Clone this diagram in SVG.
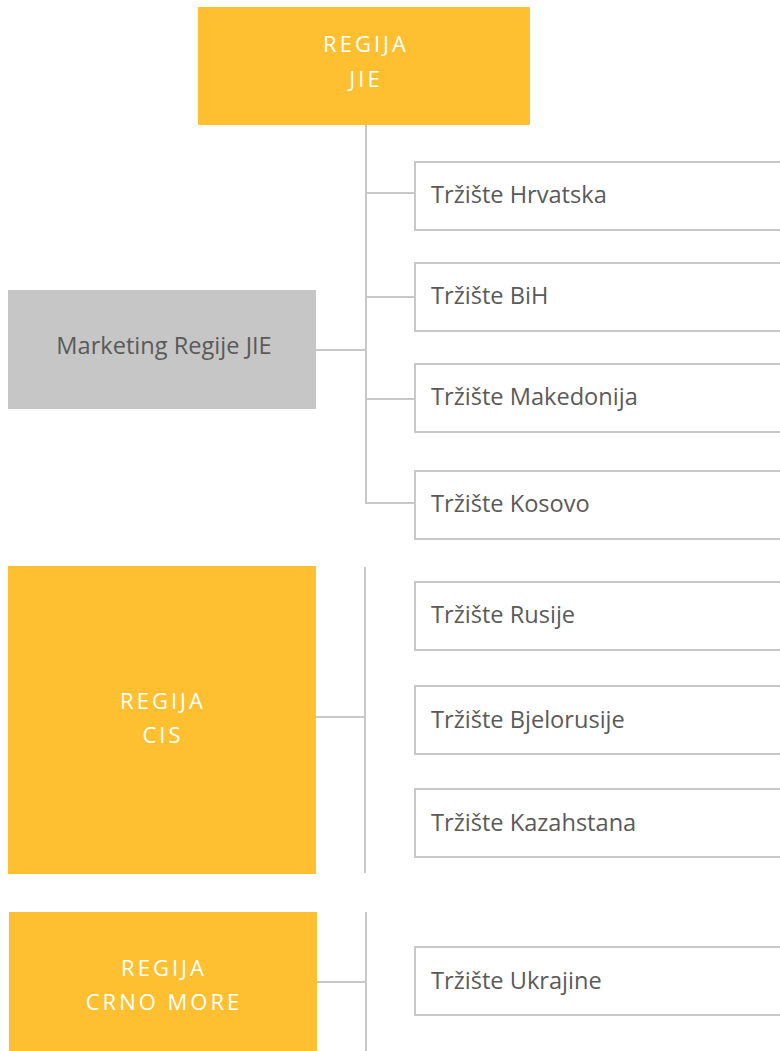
<svg xmlns="http://www.w3.org/2000/svg" width="780" height="1051" viewBox="0 0 780 1051">
<style>
.region{fill:#FEBF30}
.mkt{fill:#C6C6C6}
.child{fill:#FFFFFF;stroke:#C8C8C8;stroke-width:2}
.rtext{font-family:"Open Sans","Noto Sans",sans-serif;font-size:22px;fill:#FFFFFF;letter-spacing:3px;text-anchor:middle}
.ctext{font-family:"Open Sans","Noto Sans",sans-serif;font-size:23.6px;fill:#5A5A5A}
.mtext{font-family:"Open Sans","Noto Sans",sans-serif;font-size:23.6px;fill:#5A5A5A;text-anchor:middle}
.conn{stroke:#C8C8C8;stroke-width:2;fill:none}
</style>
<rect width="780" height="1051" fill="#FFFFFF"/>
<g id="connectors">
<path class="conn" d="M366 125 V504 M366 193 H414 M366 297 H414 M366 399 H414 M366 503 H414 M316 350 H366"/>
<path class="conn" d="M365 567 V873 M316 717 H365"/>
<path class="conn" d="M366 912 V1051 M317 982 H366"/>
</g>
<g id="regija-jie">
<rect class="region" x="198" y="7" width="332" height="118"/>
<text class="rtext" x="366" y="52">REGIJA</text>
<text class="rtext" x="366" y="87">JIE</text>
</g>
<g id="marketing">
<rect class="mkt" x="8" y="290" width="308" height="119"/>
<text class="mtext" x="164" y="354">Marketing Regije JIE</text>
</g>
<g id="hrvatska">
<rect class="child" x="415" y="162" width="380" height="68"/>
<text class="ctext" x="431" y="203">Tržište Hrvatska</text>
</g>
<g id="bih">
<rect class="child" x="415" y="263" width="380" height="68"/>
<text class="ctext" x="431" y="304">Tržište BiH</text>
</g>
<g id="makedonija">
<rect class="child" x="415" y="364" width="380" height="68"/>
<text class="ctext" x="431" y="405">Tržište Makedonija</text>
</g>
<g id="kosovo">
<rect class="child" x="415" y="471" width="380" height="68"/>
<text class="ctext" x="431" y="512">Tržište Kosovo</text>
</g>
<g id="regija-cis">
<rect class="region" x="8" y="566" width="308" height="308"/>
<text class="rtext" x="163" y="709">REGIJA</text>
<text class="rtext" x="163" y="743">CIS</text>
</g>
<g id="rusije">
<rect class="child" x="415" y="582" width="380" height="68"/>
<text class="ctext" x="431" y="623">Tržište Rusije</text>
</g>
<g id="bjelorusije">
<rect class="child" x="415" y="686" width="380" height="68"/>
<text class="ctext" x="431" y="728">Tržište Bjelorusije</text>
</g>
<g id="kazahstana">
<rect class="child" x="415" y="789" width="380" height="68"/>
<text class="ctext" x="431" y="831">Tržište Kazahstana</text>
</g>
<g id="regija-crno-more">
<rect class="region" x="9" y="912" width="308" height="139"/>
<text class="rtext" x="164" y="976">REGIJA</text>
<text class="rtext" x="164" y="1010">CRNO MORE</text>
</g>
<g id="ukrajine">
<rect class="child" x="415" y="947" width="380" height="68"/>
<text class="ctext" x="431" y="989">Tržište Ukrajine</text>
</g>
</svg>
